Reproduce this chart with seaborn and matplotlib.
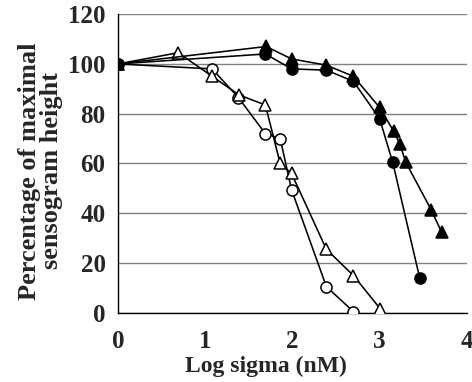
"""
Sensogram height vs log sigma concentration, four inhibition curves.
"""

import matplotlib
matplotlib.use("Agg")
import matplotlib.pyplot as plt
import seaborn as sns

# open circles
x_open_circle = [0, 1.08, 1.38, 1.69, 1.86, 1.99, 2.39, 2.70]
y_open_circle = [100, 98, 86.5, 72, 70, 49.5, 10.5, 0.5]

# open triangles
x_open_tri = [0, 0.69, 1.08, 1.39, 1.69, 1.86, 1.99, 2.39, 2.70, 3.01]
y_open_tri = [100, 104.5, 95, 87.5, 83.5, 60, 56, 25.5, 15, 1.5]

# filled circles
x_fill_circle = [0, 1.69, 1.99, 2.39, 2.70, 3.0, 3.15, 3.46]
y_fill_circle = [100, 104, 98, 97.5, 93, 78, 60.5, 14]

# filled triangles
x_fill_tri = [0, 1.70, 1.99, 2.39, 2.70, 3.0, 3.16, 3.23, 3.30, 3.59, 3.71]
y_fill_tri = [100, 107, 102, 99.5, 95, 82.5, 73, 68, 60.5, 41.5, 32.5]

sns.set_theme(style="white")
plt.rcParams["font.family"] = ["Liberation Serif", "DejaVu Serif"]
plt.rcParams["font.weight"] = "bold"

fig = plt.figure(figsize=(4.72, 3.82), dpi=100)
ax = fig.add_axes([0.25, 0.181, 0.739, 0.782])

series = [
    (x_open_circle, y_open_circle, "o", "white"),
    (x_open_tri, y_open_tri, "^", "white"),
    (x_fill_circle, y_fill_circle, "o", "black"),
    (x_fill_tri, y_fill_tri, "^", "black"),
]
for xs, ys, mk, face in series:
    sns.lineplot(
        x=xs, y=ys, ax=ax, sort=False, estimator=None,
        color="black", linewidth=1.15, marker=mk, markersize=8,
        markerfacecolor=face, markeredgecolor="black", markeredgewidth=1.1,
        zorder=3,
    )

ax.set_xlim(0, 4)
ax.set_ylim(0, 120)
ax.set_xticks([0, 1, 2, 3, 4])
ax.set_yticks(range(0, 121, 20))
ax.yaxis.grid(True, color="#808080", linewidth=1.0)
ax.xaxis.grid(False)
for side in ["top", "right"]:
    ax.spines[side].set_visible(False)
for side in ["left", "bottom"]:
    ax.spines[side].set_color("black")
    ax.spines[side].set_linewidth(1.0)
ax.tick_params(axis="both", direction="out", length=4, width=1, color="black",
               labelsize=18)
ax.tick_params(axis="x", pad=8)
ax.tick_params(axis="y", pad=5)
for lbl in ax.get_xticklabels() + ax.get_yticklabels():
    lbl.set_fontweight("bold")

ax.set_xlabel("Log sigma (nM)", fontsize=17, fontweight="bold")
ax.set_ylabel("Percentage of maximal\nsensogram height", fontsize=19,
              fontweight="bold", linespacing=0.95)
ax.xaxis.set_label_coords(0.424, -0.145)
ax.yaxis.set_label_coords(-0.158, 0.475)

fig.savefig("out.png", dpi=100)
